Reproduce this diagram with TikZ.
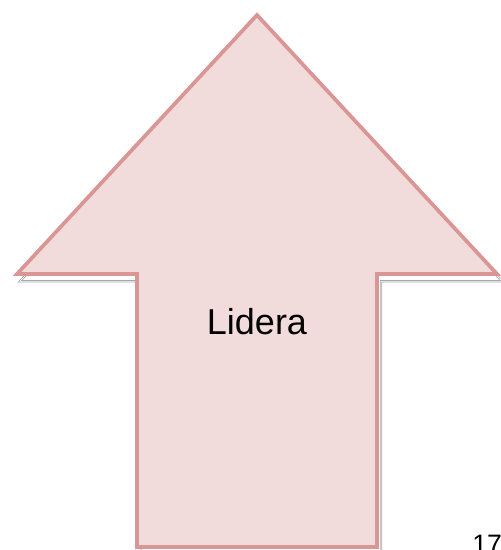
\documentclass[tikz,border=0pt]{standalone}
\usepackage{fontspec}
\setmainfont{Liberation Sans}
\definecolor{arrowfill}{HTML}{F2DCDB}
\definecolor{arrowline}{HTML}{D99694}
\definecolor{shadowline}{HTML}{A6A6A6}
\begin{document}
\begin{tikzpicture}[x=0.75pt,y=-0.75pt,
  arrowbody/.style={fill=arrowfill,draw=arrowline,line width=2.8pt,line join=miter},
  arrowshadow/.style={draw=shadowline,line width=0.6pt,double=white,double distance=0.5pt},
  labeltext/.style={font=\fontsize{27}{32}\selectfont,text=black,inner sep=0pt},
  pagenum/.style={font=\fontsize{20}{24}\selectfont,text=black,inner sep=0pt,anchor=north west}]
\useasboundingbox (0,0) rectangle (500,550);
% shadow
\draw[arrowshadow,shift={(3pt,-4pt)}] (257,15) -- (498,276) -- (377,276) -- (377,548) -- (137,548) -- (137,276) -- (16,276) -- cycle;
% arrow
\draw[arrowbody] (257,15) -- (497,274) -- (377,274) -- (377,547) -- (137,547) -- (137,274) -- (17,274) -- cycle;
\node[labeltext] (lidera) at (257,322) {Lidera};
\node[pagenum] (page) at (472,535) {17};
\end{tikzpicture}
\end{document}
